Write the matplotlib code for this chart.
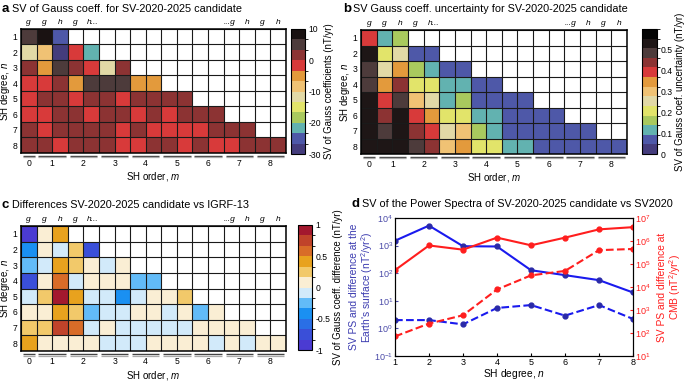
import numpy as np
import matplotlib
matplotlib.use('Agg')
import matplotlib.pyplot as plt
from matplotlib.colors import ListedColormap, BoundaryNorm
from matplotlib.cm import ScalarMappable
import matplotlib.transforms as mtransforms

plt.rcParams['font.family'] = ['Liberation Sans', 'DejaVu Sans']
plt.rcParams['mathtext.fontset'] = 'custom'
plt.rcParams['mathtext.rm'] = 'Liberation Sans'
plt.rcParams['mathtext.it'] = 'Liberation Sans:italic'
plt.rcParams['mathtext.bf'] = 'Liberation Sans:bold'

# ---------------- data ----------------
degrees = [1, 2, 3, 4, 5, 6, 7, 8]
orders = [0, 1, 2, 3, 4, 5, 6, 7, 8]
coef_labels_left = ['g', 'g', 'h', 'g', 'h...']
coef_labels_right = ['...g', 'h', 'g', 'h']

# panel a: SV of Gauss coefficients (nT/yr), row n has g_n^0, g_n^1, h_n^1, ...
sv_rows = [
    [5, 8, -25],
    [-12, -8, -28, -2, -22],
    [2, -5, 5, 2, -2, -12, 2],
    [-2, -2, 2, -5, 5, 5, 5, -5, -5],
    [-2, 2, 2, -2, 2, 2, -2, 2, 2, 2, 2],
    [-2, -2, 2, 2, -2, 2, 2, -2, 2, -2, 2, 2, 2],
    [2, -2, 2, 2, 2, 2, -2, 2, -2, -2, -2, -2, 2, 2, 2],
    [2, 2, -2, 2, 2, 2, -2, -2, 2, 2, -2, 2, -2, -2, 2, 2, 2],
]

# panel b: uncertainty (nT/yr)
unc_rows = [
    [0.39, 0.12, 0.16],
    [0.53, 0.21, 0.25, 0.07, 0.07],
    [0.49, 0.25, 0.35, 0.16, 0.12, 0.07, 0.07],
    [0.49, 0.35, 0.44, 0.21, 0.21, 0.12, 0.12, 0.07, 0.07],
    [0.53, 0.39, 0.49, 0.30, 0.25, 0.12, 0.16, 0.07, 0.07, 0.07, 0.07],
    [0.53, 0.44, 0.53, 0.39, 0.35, 0.21, 0.21, 0.12, 0.12, 0.07, 0.07, 0.07, 0.07],
    [0.53, 0.49, 0.53, 0.44, 0.39, 0.25, 0.30, 0.16, 0.12, 0.07, 0.07, 0.07, 0.07, 0.07, 0.07],
    [0.53, 0.53, 0.53, 0.49, 0.44, 0.30, 0.35, 0.21, 0.21, 0.12, 0.12, 0.07, 0.07, 0.07, 0.07, 0.07, 0.07],
]

# panel c: differences vs IGRF-13 (nT/yr)
diff_rows = [
    [-0.9, 0.08, 0.4],
    [-0.4, 0.08, -0.08, 0.25, -0.75],
    [-0.25, -0.08, 0.4, 0.25, 0.08, -0.08, 0.08],
    [-0.75, 0.08, 0.6, -0.08, 0.08, 0.08, 0.08, -0.25, -0.25],
    [-0.08, 0.25, 0.9, 0.4, -0.08, -0.08, -0.4, -0.08, 0.08, 0.08, 0.25],
    [0.08, 0.08, 0.4, 0.25, -0.25, -0.08, -0.08, 0.08, 0.08, -0.08, 0.08, -0.25, 0.08],
    [0.25, 0.25, 0.75, 0.6, -0.08, 0.08, -0.08, -0.08, -0.08, -0.08, -0.08, 0.08, 0.08, 0.08, 0.08],
    [0.4, 0.08, 0.08, 0.08, 0.08, -0.08, -0.08, -0.08, 0.08, 0.08, 0.08, 0.08, -0.08, 0.08, -0.08, 0.08, 0.08],
]

# panel d: power spectra
ps_degree = [1, 2, 3, 4, 5, 6, 7, 8]
ps_surface = [1500, 5300, 950, 930, 128, 85, 56, 20]
ps_surface_diff = [2.0, 2.0, 1.4, 5.5, 7.0, 2.9, 7.0, 2.2]
ps_cmb = [5.4e4, 6.4e5, 4.2e5, 1.4e6, 6.5e5, 1.4e6, 3.2e6, 4.0e6]
ps_cmb_diff = [71, 257, 590, 7800, 3.2e4, 5.0e4, 4.0e5, 4.5e5]

# ---------------- styles ----------------
pal13 = ['#443c7c', '#4e58a8', '#62b2b0', '#a9c95e', '#e2e46a', '#e2d9a6',
         '#f0c274', '#e39a3c', '#d83a3a', '#8c3333', '#4d3b3b', '#1e1616', '#050505']
pal_a = pal13[:11] + ['#1a1212']
pal_c = ['#4b3bd2', '#3a4fd8', '#2a6fe6', '#1a90f2', '#62bbf8', '#d2eafa',
         '#faeed4', '#f2c96a', '#e8a21e', '#d86c28', '#c0432a', '#a3182e']

cmap_a = ListedColormap(pal_a)
norm_a = BoundaryNorm(np.linspace(-30, 10, 13), 12)
cmap_b = ListedColormap(pal13)
norm_b = BoundaryNorm(np.linspace(0, 0.6, 14), 13)
cmap_c = ListedColormap(pal_c)
norm_c = BoundaryNorm(np.linspace(-1, 1, 13), 12)

W, H = 685, 381
fig = plt.figure(figsize=(W / 100, H / 100), dpi=100)


def px(l, t, r, b):
    return [l / W, 1 - b / H, (r - l) / W, (b - t) / H]


FS_T = 7.8
FS_X = 7.0
FS_Y = 7.0
FS_C = 6.9
FS_K = 6.2


def grid_panel(rect, rows, cmap, norm):
    l, t, r, b = rect
    ax = fig.add_axes(px(*rect))
    ncol = 2 * len(degrees) + 1
    data = np.full((len(degrees), ncol), np.nan)
    for i, row in enumerate(rows):
        data[i, :len(row)] = row
    ax.pcolormesh(np.arange(ncol + 1), np.arange(0.5, len(degrees) + 1.0),
                  np.ma.masked_invalid(data), cmap=cmap, norm=norm)
    ax.set_xlim(0, ncol)
    ax.set_ylim(len(degrees) + 0.5, 0.5)
    ax.hlines(np.arange(0.5, len(degrees) + 1.0), 0, ncol, color='#1a1a1a', lw=0.8)
    ax.vlines(np.arange(ncol + 1), 0.5, len(degrees) + 0.5, color='#1a1a1a', lw=0.8)
    for s in ax.spines.values():
        s.set_linewidth(1.1)
    ax.set_yticks(degrees)
    ax.set_yticklabels([str(d) for d in degrees])
    xt = [0.5] + [2 * m for m in orders[1:]]
    ax.set_xticks(xt)
    ax.set_xticklabels([str(m) for m in orders])
    ax.tick_params(length=0, labelsize=FS_K)
    ax.tick_params(axis='x', pad=4.5)
    ax.tick_params(axis='y', pad=2.5)
    ax.set_xlabel('SH order, $m$', fontsize=FS_X)
    ax.set_ylabel('SH degree, $n$', fontsize=FS_Y)
    ax.xaxis.set_label_coords(0.5, -17.5 / (b - t))
    ax.yaxis.set_label_coords(-8.5 / (r - l), 0.5)
    tr = mtransforms.blended_transform_factory(ax.transData, ax.transAxes)
    # group underlines
    groups = [(0, 1)] + [(2 * m - 1, 2 * m + 1) for m in orders[1:]]
    for a, bb in groups:
        ax.plot([a + 0.12, bb - 0.12], [-0.026, -0.026], transform=tr,
                color='#444444', lw=1.0, clip_on=False, solid_capstyle='butt')
        ax.plot([a + 0.12, bb - 0.12], [-0.036, -0.036], transform=tr,
                color='#aaaaaa', lw=0.9, clip_on=False, solid_capstyle='butt')
    # coefficient labels on top
    for j, s in enumerate(coef_labels_left):
        ax.text(j + 0.5 if s != 'h...' else j + 0.25, 1.055, s, transform=tr,
                ha='center' if s != 'h...' else 'left', va='center',
                fontsize=6.0, style='italic')
    for j, s in enumerate(coef_labels_right):
        col = ncol - len(coef_labels_right) + j
        ax.text(col + 0.5 if not s.startswith('...') else col + 0.75, 1.055, s,
                transform=tr, ha='center' if not s.startswith('...') else 'right',
                va='center', fontsize=6.0, style='italic')
    return ax


def add_cbar(rect, cmap, norm, ticks, ticklabels, label):
    cax = fig.add_axes(px(*rect))
    cb = fig.colorbar(ScalarMappable(norm=norm, cmap=cmap), cax=cax, ticks=ticks)
    cb.set_ticklabels(ticklabels)
    cb.ax.tick_params(labelsize=FS_K, length=0, pad=2.5)
    cb.outline.set_linewidth(0.8)
    cb.set_label(label, fontsize=FS_C, labelpad=2)
    return cb


# panel a
grid_panel((21, 29, 286, 153), sv_rows, cmap_a, norm_a)
add_cbar((291, 29, 305, 154), cmap_a, norm_a, [-30, -20, -10, 0, 10],
         ['-30', '-20', '-10', '0', '10'], 'SV of Gauss coefficients (nT/yr)')
fig.text(2 / W, 1 - 9 / H, 'a', fontsize=9.5, fontweight='bold', va='center')
fig.text(12 / W, 1 - 9 / H, 'SV of Gauss coeff. for SV-2020-2025 candidate',
         fontsize=FS_T, va='center')

# panel b
grid_panel((361, 30, 627, 154), unc_rows, cmap_b, norm_b)
add_cbar((642, 29, 657, 154), cmap_b, norm_b, [0, 0.1, 0.2, 0.3, 0.4, 0.5],
         ['0', '0.1', '0.2', '0.3', '0.4', '0.5'], 'SV of Gauss coef. uncertainty (nT/yr)')
fig.text(343 / W, 1 - 9 / H, 'b', fontsize=9.5, fontweight='bold', va='center')
fig.text(353 / W, 1 - 9 / H, 'SV Gauss coeff. uncertainty for SV-2020-2025 candidate',
         fontsize=FS_T, va='center')

# panel c
grid_panel((21, 226, 286, 351), diff_rows, cmap_c, norm_c)
add_cbar((298, 225, 312, 350), cmap_c, norm_c, [-1, -0.5, 0, 0.5, 1],
         ['-1', '-0.5', '0', '0.5', '1'], 'SV of Gauss coeff. difference (nT/yr)')
fig.text(2 / W, 1 - 205 / H, 'c', fontsize=9.5, fontweight='bold', va='center')
fig.text(12 / W, 1 - 205 / H, 'Differences SV-2020-2025 candidate vs IGRF-13',
         fontsize=FS_T, va='center')

# panel d
blue = '#1a1aee'
red = '#ff1e1e'
dl, dt, dr, db = 395, 218, 633, 356
axd = fig.add_axes(px(dl, dt, dr, db))
axd.plot(ps_degree, ps_surface, '-o', color=blue, lw=1.5, ms=3.5, mfc='#2a2aa8', mec='#2a2aa8')
axd.plot(ps_degree, ps_surface_diff, '--o', color=blue, lw=1.5, ms=3.5, mfc='#2a2aa8', mec='#2a2aa8')
axd.set_yscale('log')
axd.set_ylim(1e-1, 1e4)
axd.set_xlim(1, 8)
axd.set_xticks(ps_degree)
axd.minorticks_off()
axd.tick_params(labelsize=FS_K + 0.3, length=2.5, pad=1.5, direction='in')
axd.tick_params(axis='y', colors='#4a4aa8', labelcolor='#4a4aa8')
axd.set_xlabel('SH degree, $n$', fontsize=FS_X + 0.4)
axd.xaxis.set_label_coords(0.5, -(367.0 - db) / (db - dt))
axd.set_ylabel("SV PS and difference at the\nEarth's surface (nT$^2$/yr$^2$)",
               fontsize=7.4, color='#3c3cb0', linespacing=1.0)
axd.yaxis.set_label_coords(-(dl - 375) / (dr - dl), 0.5)
axr = axd.twinx()
axr.plot(ps_degree, ps_cmb, '-o', color=red, lw=1.5, ms=3.5)
axr.plot(ps_degree, ps_cmb_diff, '--o', color=red, lw=1.5, ms=3.5)
axr.set_yscale('log')
axr.set_ylim(1e1, 1e7)
axr.minorticks_off()
axr.tick_params(labelsize=FS_K + 0.3, length=2.5, pad=1.5, direction='in',
                colors=red, labelcolor=red)
axr.set_ylabel('SV PS and difference at\nCMB (nT$^2$/yr$^2$)', fontsize=7.4,
               color=red, linespacing=1.0)
axr.yaxis.set_label_coords((657 - dl) / (dr - dl), 0.5)
for s in list(axd.spines.values()) + list(axr.spines.values()):
    s.set_linewidth(0.8)
fig.text(352 / W, 1 - 204 / H, 'd', fontsize=9.5, fontweight='bold', va='center')
fig.text(362 / W, 1 - 204 / H, 'SV of the Power Spectra of SV-2020-2025 candidate vs SV2020',
         fontsize=FS_T, va='center')

fig.savefig('out.png', dpi=100)
